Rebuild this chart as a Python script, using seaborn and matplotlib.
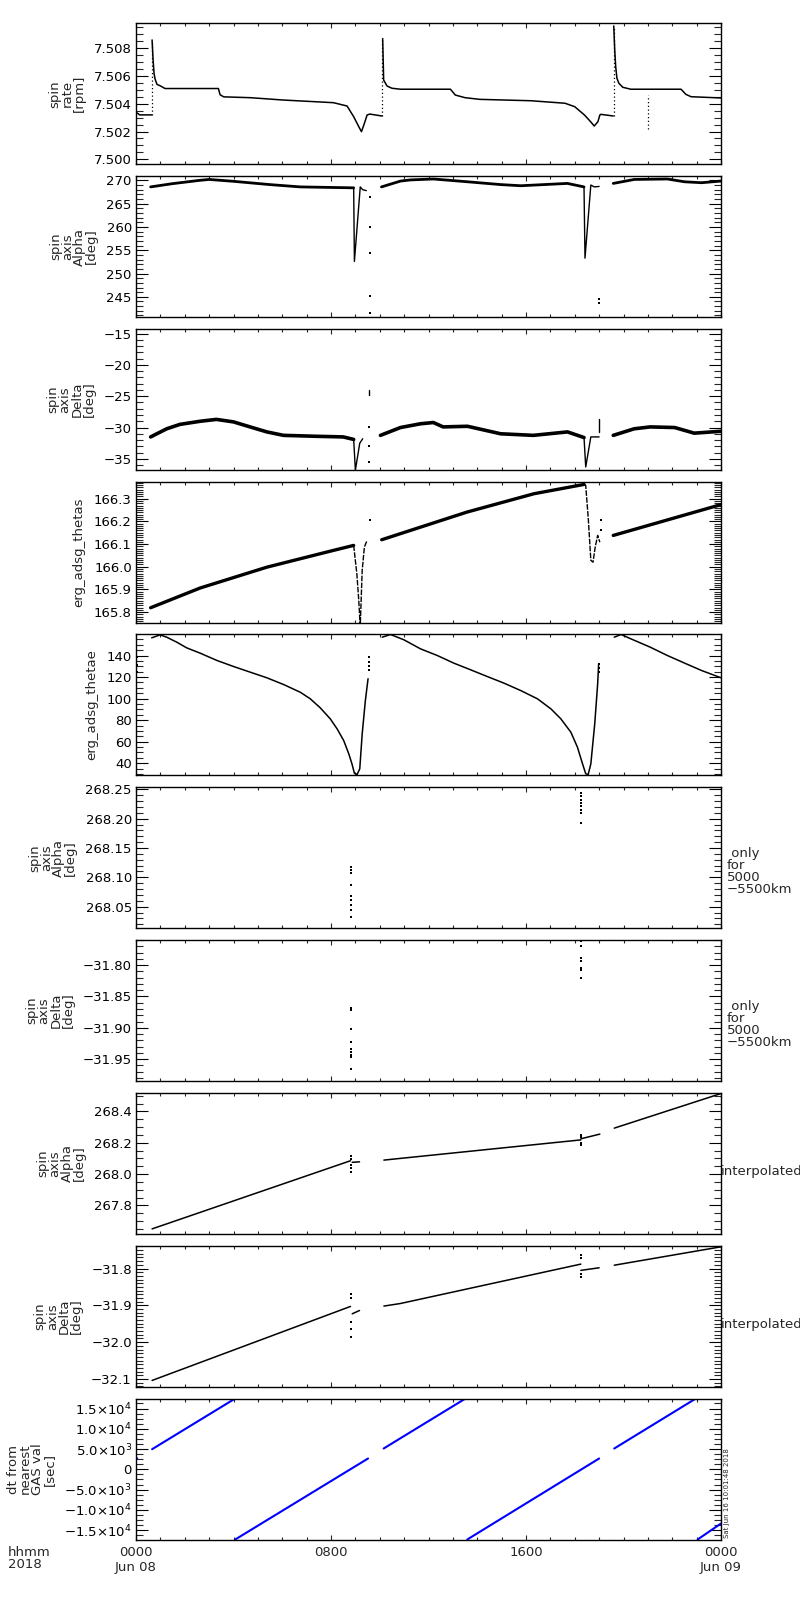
import numpy as np
import pandas as pd
import matplotlib
matplotlib.use("Agg")
import matplotlib.pyplot as plt
from matplotlib.ticker import FixedLocator, MultipleLocator, FixedFormatter
import seaborn as sns

# ---------------- data (time in hours since 2018-06-08 00:00) ----------------
# Panel 1: spin rate [rpm]
rate_t = [0.0, 0.15, 0.64,
          0.66, 0.70, 0.74, 0.78, 0.86, 0.99, 1.19, 3.38, 3.45, 3.6, 4.69, 6.05, 8.1, 8.66, 8.93, 9.14, 9.25, 9.37, 9.48, 9.59, 10.09,
          10.12, 10.16, 10.3, 10.5, 10.85, 12.9, 13.1, 13.5, 14.1, 16.2, 17.6, 18.0, 18.4, 18.65, 18.8, 18.95, 19.03, 19.07, 19.58,
          19.6, 19.64, 19.68, 19.73, 19.81, 19.97, 20.3, 22.36, 22.56, 22.77, 24.0]
rate_v = [7.5034, 7.5032, 7.5032,
          7.5086, 7.5072, 7.5062, 7.5058, 7.5054, 7.5053, 7.5051, 7.5051, 7.50465, 7.5045, 7.50444, 7.50427, 7.50408, 7.50384, 7.50307, 7.50235, 7.50199, 7.50259, 7.50319, 7.50326, 7.50312,
          7.5087, 7.50571, 7.50528, 7.50512, 7.50505, 7.50505, 7.50463, 7.50444, 7.50432, 7.50422, 7.50404, 7.50379, 7.50319, 7.50271, 7.5024, 7.50271, 7.50319, 7.50324, 7.50312,
          7.50961, 7.50788, 7.50667, 7.50584, 7.50548, 7.50519, 7.50505, 7.50505, 7.50468, 7.50451, 7.50442]
rate_seg = [0] * 3 + [1] * 21 + [2] * 19 + [3] * 11
rate_spike_t = [0.66, 10.11, 19.6, 21.0]
rate_spike_lo = [7.5032, 7.5031, 7.5031, 7.5022]
rate_spike_hi = [7.5086, 7.5087, 7.5096, 7.5046]

# Panel 2: spin axis Alpha [deg]
alpha_band_t = [0.6, 1.5, 2.6, 3.0, 4.0, 5.48, 6.74, 8.93,
                10.07, 10.85, 11.26, 12.2, 13.6, 14.96, 15.78, 17.7, 18.38,
                19.58, 20.44, 21.8, 22.5, 23.2, 24.0]
alpha_band_v = [268.6, 269.3, 270.0, 270.2, 269.8, 269.1, 268.6, 268.4,
                268.6, 269.85, 270.1, 270.3, 269.7, 269.1, 268.85, 269.35, 268.6,
                269.35, 270.2, 270.3, 269.7, 269.5, 269.85]
alpha_band_seg = [0] * 8 + [1] * 9 + [2] * 6
alpha_dip_t = [8.93, 8.96, 9.2, 9.3, 9.45, 18.38, 18.42, 18.66, 18.8, 19.0]
alpha_dip_v = [268.4, 252.6, 268.6, 268.0, 267.8, 268.6, 253.3, 269.0, 268.6, 268.7]
alpha_dip_seg = [0] * 5 + [1] * 5
alpha_dot_t = [9.58, 9.58, 9.58, 9.58, 9.58, 19.0, 19.0, 0.02, 0.02]
alpha_dot_v = [266.5, 260.1, 254.4, 245.1, 241.5, 244.5, 243.7, 241.0, 241.8]

# Panel 3: spin axis Delta [deg]
delta_band_t = [0.6, 1.26, 1.8, 2.63, 3.3, 4.0, 4.68, 5.37, 6.05, 7.4, 8.5, 8.93,
                10.03, 10.85, 11.67, 12.2, 12.6, 13.6, 14.96, 16.3, 17.7, 18.38,
                19.58, 20.44, 21.1, 22.1, 22.9, 24.0]
delta_band_v = [-31.5, -30.2, -29.5, -29.0, -28.7, -29.1, -29.9, -30.7, -31.25, -31.4, -31.5, -31.9,
                -31.25, -30.0, -29.4, -29.2, -29.9, -29.8, -31.0, -31.25, -30.7, -31.6,
                -31.25, -30.2, -29.9, -30.0, -30.9, -30.6]
delta_band_seg = [0] * 12 + [1] * 10 + [2] * 6
delta_dip_t = [8.93, 9.0, 9.18, 9.3, 18.38, 18.45, 18.66, 19.0, 9.55, 9.55, 19.0, 19.0]
delta_dip_v = [-31.9, -36.8, -32.5, -31.8, -31.6, -36.3, -31.5, -31.5, -24.0, -24.8, -28.6, -30.7]
delta_dip_seg = [0] * 4 + [1] * 4 + [2, 2, 3, 3]
delta_dot_t = [9.55, 9.55, 9.55]
delta_dot_v = [-29.9, -32.9, -35.5]

# Panel 4: erg_adsg_thetas
thetas_band_t = [0.6, 2.63, 5.37, 8.1, 8.93, 10.08, 13.58, 16.33, 18.38, 19.58, 24.0]
thetas_band_v = [165.819, 165.906, 165.998, 166.072, 166.094, 166.119, 166.241, 166.322, 166.363, 166.138, 166.274]
thetas_band_seg = [0] * 5 + [1] * 4 + [2] * 2
thetas_dip_t = [8.93, 9.06, 9.13, 9.2, 9.28, 9.37, 9.48,
                18.38, 18.45, 18.56, 18.66, 18.75, 18.84, 18.94, 19.03]
thetas_dip_v = [166.094, 165.969, 165.866, 165.74, 165.984, 166.087, 166.116,
                166.363, 166.359, 166.204, 166.028, 166.02, 166.087, 166.138, 166.108]
thetas_dip_seg = [0] * 7 + [1] * 8
thetas_dot_t = [9.58, 19.07, 19.07]
thetas_dot_v = [166.204, 166.204, 166.16]

# Panel 5: erg_adsg_thetae
thetae_t = [0.645, 0.99, 1.26, 1.67, 2.08, 2.63, 3.32, 4.0, 4.69, 5.37, 6.05, 6.74, 7.15, 7.56, 7.97, 8.25, 8.52, 8.73,
            8.86, 8.96, 9.07, 9.18, 9.28, 9.41, 9.52,
            10.1, 10.44, 10.99, 11.67, 12.36, 13.04, 13.73, 14.41, 15.1, 15.78, 16.47, 17.02, 17.43, 17.84, 18.11,
            18.32, 18.45, 18.55, 18.66, 18.82, 18.94, 18.98,
            19.62, 19.9, 20.3, 21.1, 21.8, 22.5, 23.2, 24.0]
thetae_v = [156.4, 159.2, 157.0, 152.4, 147.1, 142.2, 135.4, 129.8, 124.5, 119.3, 113.1, 105.9, 99.8, 91.4, 81.2, 71.9, 61.1, 48.7,
            39.4, 30.7, 29.5, 34.8, 67.3, 98.2, 118.4,
            157.0, 159.5, 154.6, 146.2, 140.0, 132.9, 126.7, 120.5, 114.3, 107.5, 99.8, 90.5, 81.2, 68.8, 54.9,
            39.4, 30.2, 29.5, 39.4, 76.6, 113.7, 132.3,
            157.0, 159.5, 155.5, 147.7, 140.0, 133.0, 126.1, 119.3]
thetae_seg = [0] * 25 + [1] * 22 + [2] * 8
thetae_dot_t = [9.55, 9.55, 9.55, 9.55, 19.0, 19.0, 19.0, 0.05, 0.05, 0.05]
thetae_dot_v = [126.1, 130.0, 134.0, 138.4, 125.0, 128.5, 132.0, 124.5, 131.0, 138.4]

# Panel 6: spin axis Alpha only for 5000-5500 km
only_alpha_t = [8.8] * 9 + [18.25] * 8
only_alpha_v = [268.118, 268.112, 268.107, 268.087, 268.068, 268.061, 268.053, 268.045, 268.033,
                268.243, 268.238, 268.232, 268.227, 268.222, 268.215, 268.210, 268.192]

# Panel 7: spin axis Delta only for 5000-5500 km
only_delta_t = [8.8] * 9 + [18.25] * 7
only_delta_v = [-31.868, -31.871, -31.902, -31.922, -31.933, -31.938, -31.944, -31.947, -31.965,
                -31.761, -31.769, -31.788, -31.794, -31.804, -31.807, -31.820]

# Panel 8: spin axis Alpha interpolated
interp_alpha_t = [0.66, 8.8, 8.87, 9.17, 10.17, 10.85, 18.25, 18.25, 19.03, 19.62, 24.0]
interp_alpha_v = [267.650, 268.085, 268.075, 268.078, 268.089, 268.100, 268.218, 268.225, 268.255, 268.293, 268.514]
interp_alpha_seg = [0, 0, 1, 1, 2, 2, 2, 3, 3, 4, 4]
interp_alpha_dot_t = [8.8, 8.8, 8.8, 8.8, 8.8, 18.25, 18.25, 18.25, 18.25]
interp_alpha_dot_v = [268.115, 268.098, 268.060, 268.040, 268.014, 268.250, 268.238, 268.200, 268.185]

# Panel 9: spin axis Delta interpolated
interp_delta_t = [0.66, 8.8, 8.87, 9.17, 10.17, 10.85, 18.25, 18.25, 19.0, 19.62, 24.0]
interp_delta_v = [-32.104, -31.903, -31.923, -31.914, -31.902, -31.895, -31.788, -31.805, -31.798, -31.791, -31.741]
interp_delta_seg = [0, 0, 1, 1, 2, 2, 2, 3, 3, 4, 4]
interp_delta_dot_t = [8.8, 8.8, 8.8, 8.8, 8.8, 18.25, 18.25, 18.25, 18.25]
interp_delta_dot_v = [-31.868, -31.880, -31.945, -31.965, -31.986, -31.764, -31.772, -31.815, -31.823]

# Panel 10: dt from nearest GAS val [sec]
dt_t = [0.0, 0.05, 0.66, 4.07, 4.07, 9.52, 10.16, 13.52, 13.59, 19.0, 19.62, 22.97, 23.04, 24.0]
dt_v = [2500, 2700, 4967, 17465, -17290, 2675, 5140, 17465, -17290, 2675, 5140, 17465, -17290, -13350]
dt_seg = [0, 0, 1, 1, 2, 2, 3, 3, 4, 4, 5, 5, 6, 6]

# axis text
y_labels = ["spin\nrate\n[rpm]", "spin\naxis\nAlpha\n[deg]", "spin\naxis\nDelta\n[deg]",
            "erg_adsg_thetas", "erg_adsg_thetae", "spin\naxis\nAlpha\n[deg]",
            "spin\naxis\nDelta\n[deg]", "spin\naxis\nAlpha\n[deg]", "spin\naxis\nDelta\n[deg]",
            "dt from\nnearest\nGAS val\n[sec]"]
y_limits = [(7.49964, 7.5098), (240.65, 270.92), (-36.77, -14.24), (165.753, 166.375), (28.6, 159.5),
            (268.0132, 268.2534), (-31.985, -31.760), (267.618, 268.518), (-32.121, -31.738), (-17290, 17465)]
y_major = [[7.500, 7.502, 7.504, 7.506, 7.508], [245, 250, 255, 260, 265, 270], [-35, -30, -25, -20, -15],
           [165.8, 165.9, 166.0, 166.1, 166.2, 166.3], [40, 60, 80, 100, 120, 140],
           [268.05, 268.10, 268.15, 268.20, 268.25], [-31.95, -31.90, -31.85, -31.80],
           [267.8, 268.0, 268.2, 268.4], [-32.1, -32.0, -31.9, -31.8],
           [-15000, -10000, -5000, 0, 5000, 10000, 15000]]
y_fmt = ["%.3f", "%d", "%d", "%.1f", "%d", "%.2f", "%.2f", "%.1f", "%.1f", None]
dt_tick_labels = ["\u22121.5\u00d710$^{4}$", "\u22121.0\u00d710$^{4}$", "\u22125.0\u00d710$^{3}$", "0",
                  "5.0\u00d710$^{3}$", "1.0\u00d710$^{4}$", "1.5\u00d710$^{4}$"]
y_minor = [0.0005, 1, 1, 0.01, 5, 0.01, 0.01, 0.05, 0.01, 1250]
x_major = [0, 8, 16, 24]
x_tick_labels = ["0000\nJun 08", "0800", "1600", "0000\nJun 09"]
right_notes = [None, None, None, None, None, " only\nfor\n5000\n\u22125500km", " only\nfor\n5000\n\u22125500km",
               "interpolated", "interpolated", None]

# ---------------- style ----------------
sns.set_style("white")
plt.rcParams['font.family'] = ['DejaVu Sans']
plt.rcParams['mathtext.fontset'] = 'dejavusans'
plt.rcParams['axes.unicode_minus'] = True

fig = plt.figure(figsize=(8, 16), dpi=100)
W, H = 800.0, 1600.0
left_px, right_px = 136.0, 721.0
top0, step, height = 23.3, 152.8, 141.0
axes = []
for i in range(10):
    top = top0 + step * i
    ax = fig.add_axes([left_px / W, 1 - (top + height) / H, (right_px - left_px) / W, height / H])
    axes.append(ax)


def lines(ax, t, v, seg, lw=1.0, color="black", ls="-"):
    df = pd.DataFrame({"t": t, "v": v, "seg": seg})
    sns.lineplot(data=df, x="t", y="v", units="seg", estimator=None, sort=False,
                 ax=ax, color=color, lw=lw, linestyle=ls, legend=False)


def dots(ax, t, v, s=2.5):
    sns.scatterplot(x=t, y=v, ax=ax, s=s, color="black", marker="s", linewidth=0, legend=False)


# Panel 1
ax = axes[0]
lines(ax, rate_t, rate_v, rate_seg, lw=1.1)
sp_t = [x for x in rate_spike_t for _ in range(2)]
sp_v = [val for pair in zip(rate_spike_lo, rate_spike_hi) for val in pair]
sp_s = [k for k in range(len(rate_spike_t)) for _ in range(2)]
lines(ax, sp_t, sp_v, sp_s, lw=0.9, ls=(0, (1, 2)))

# Panel 2
ax = axes[1]
lines(ax, alpha_band_t, alpha_band_v, alpha_band_seg, lw=2.0)
lines(ax, alpha_dip_t, alpha_dip_v, alpha_dip_seg, lw=1.0)
dots(ax, alpha_dot_t, alpha_dot_v)

# Panel 3
ax = axes[2]
lines(ax, delta_band_t, delta_band_v, delta_band_seg, lw=2.6)
lines(ax, delta_dip_t, delta_dip_v, delta_dip_seg, lw=1.0)
dots(ax, delta_dot_t, delta_dot_v)

# Panel 4
ax = axes[3]
lines(ax, thetas_band_t, thetas_band_v, thetas_band_seg, lw=2.4)
lines(ax, thetas_dip_t, thetas_dip_v, thetas_dip_seg, lw=1.0, ls=(0, (4, 1)))
dots(ax, thetas_dot_t, thetas_dot_v)

# Panel 5
ax = axes[4]
lines(ax, thetae_t, thetae_v, thetae_seg, lw=1.1)
dots(ax, thetae_dot_t, thetae_dot_v)

# Panels 6, 7
dots(axes[5], only_alpha_t, only_alpha_v, s=2)
dots(axes[6], only_delta_t, only_delta_v, s=2)

# Panels 8, 9
lines(axes[7], interp_alpha_t, interp_alpha_v, interp_alpha_seg, lw=1.1)
dots(axes[7], interp_alpha_dot_t, interp_alpha_dot_v, s=2)
lines(axes[8], interp_delta_t, interp_delta_v, interp_delta_seg, lw=1.1)
dots(axes[8], interp_delta_dot_t, interp_delta_dot_v, s=2)

# Panel 10
lines(axes[9], dt_t, dt_v, dt_seg, lw=1.5, color="#0000ff")

# ---------------- axes formatting ----------------
for i, ax in enumerate(axes):
    ax.set_xlim(0, 24)
    ax.set_ylim(*y_limits[i])
    ax.xaxis.set_major_locator(FixedLocator(x_major))
    ax.xaxis.set_minor_locator(MultipleLocator(1))
    ax.yaxis.set_major_locator(FixedLocator(y_major[i]))
    ax.yaxis.set_minor_locator(MultipleLocator(y_minor[i]))
    if y_fmt[i] is None:
        labs = dt_tick_labels
    else:
        labs = [(y_fmt[i] % val).replace("-", "\u2212") for val in y_major[i]]
    ax.yaxis.set_major_formatter(FixedFormatter(labs))
    if i == 9:
        ax.xaxis.set_major_formatter(FixedFormatter(x_tick_labels))
    ax.tick_params(axis="y", which="major", direction="in", length=8.5, width=0.8,
                   left=True, right=True, labelsize=9.5, pad=3, colors="black")
    ax.tick_params(axis="y", which="minor", direction="in", length=5, width=0.8, left=True, right=True)
    ax.tick_params(axis="x", which="major", direction="in", length=3.3, width=0.8,
                   top=True, bottom=True, labelbottom=(i == 9), labelsize=9.5, pad=5)
    ax.tick_params(axis="x", which="minor", direction="in", length=2.0, width=0.8, top=True, bottom=True)
    for s in ax.spines.values():
        s.set_visible(True)
        s.set_linewidth(1.0)
        s.set_color("black")
    ax.set_xlabel("")
    ax.set_ylabel(y_labels[i], fontsize=9.5, linespacing=0.9, labelpad=6)
    if right_notes[i] is not None:
        if right_notes[i] == "interpolated":
            ax.text(1.0, 0.44, right_notes[i], transform=ax.transAxes, ha="left", va="center", fontsize=9.5)
        else:
            ax.text(1.01, 0.40, right_notes[i], transform=ax.transAxes, ha="left", va="center",
                    fontsize=9.5, linespacing=0.9)

fig.text(8 / W, 1 - 1546 / H, "hhmm\n2018", ha="left", va="top", fontsize=9.5, linespacing=0.9)
fig.text(724 / W, 1 - 1538 / H, "Sat Jun 16 10:01:48 2018", rotation=90, ha="left", va="bottom", fontsize=5)

fig.savefig("out.png", dpi=100, facecolor="white")
